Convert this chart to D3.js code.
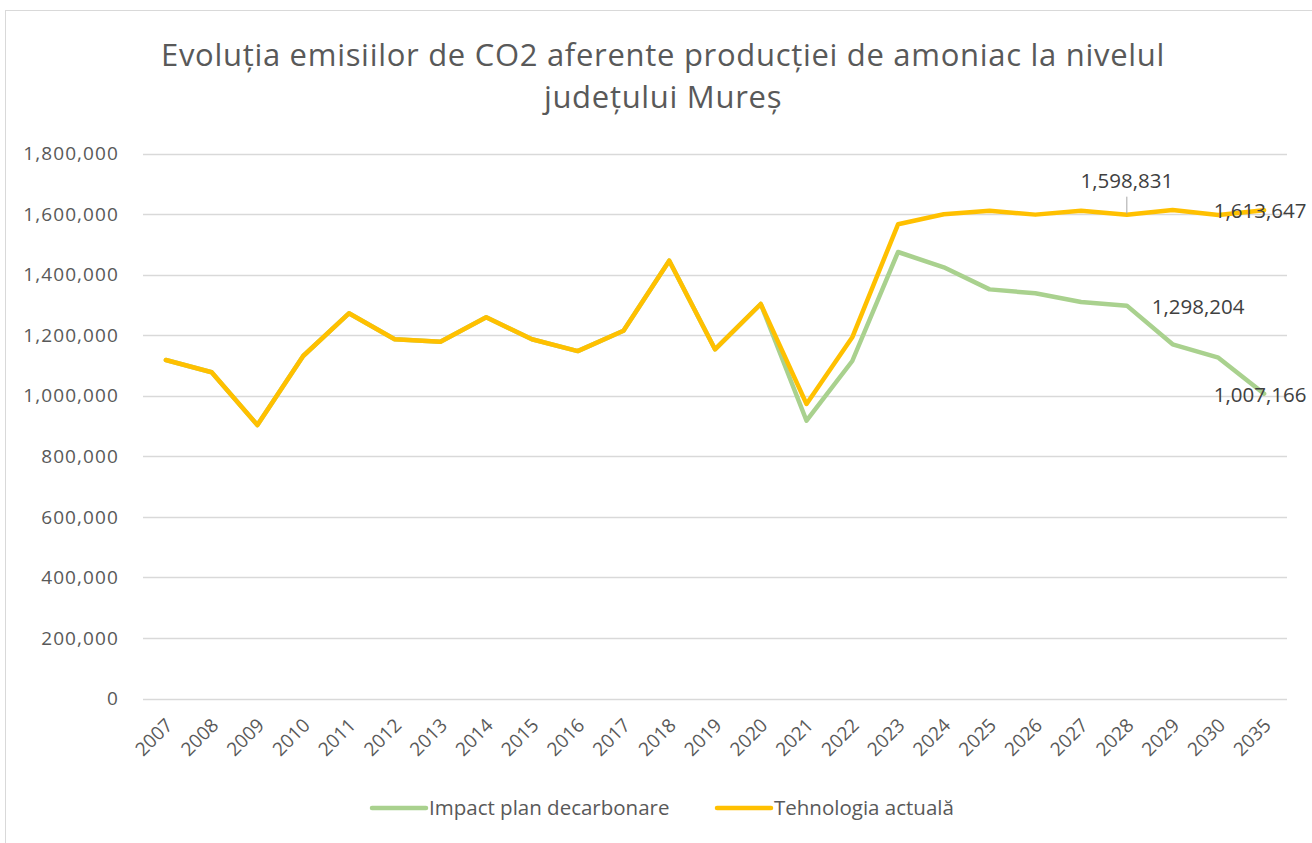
<!DOCTYPE html>
<html>
<head>
<meta charset="utf-8">
<script src="https://cdn.jsdelivr.net/npm/d3@7"></script>
<style>
  body { margin: 0; background: #fff; }
  svg { display: block; font-family: "Open Sans", sans-serif; }
</style>
</head>
<body>
<svg id="chart" width="1312" height="843"></svg>
<script>
// data
const years = ['2007','2008','2009','2010','2011','2012','2013','2014','2015','2016','2017','2018','2019',
  '2020','2021','2022','2023','2024','2025','2026','2027','2028','2029','2030','2035'];

const impactPlan = [1118600, 1078000, 903800, 1131800, 1272900, 1187000, 1179000, 1259700, 1187000, 1148000,
  1215400, 1446800, 1154000, 1303700, 918000, 1115300, 1475500, 1425000, 1352000, 1339000,
  1310000, 1298204, 1170500, 1126200, 1007166];

const tehnologia = [1118600, 1078000, 903800, 1131800, 1272900, 1187000, 1179000, 1259700, 1187000, 1148000,
  1215400, 1446800, 1154000, 1303700, 973200, 1193600, 1567000, 1600000, 1612000, 1599000,
  1612000, 1598831, 1614000, 1598000, 1613647];

const yTicks = [0, 200000, 400000, 600000, 800000, 1000000, 1200000, 1400000, 1600000, 1800000];

const titleLines = ['Evoluția emisiilor de CO2 aferente producției de amoniac la nivelul', 'județului Mureș'];
const seriesNames = ['Impact plan decarbonare', 'Tehnologia actuală'];
const seriesColors = ['#A9D18E', '#FFC000'];

document.addEventListener('DOMContentLoaded', function() {

    var svg = d3.select('#chart');
    var fmt = d3.format(',');

    // chart border
    svg.append('rect')
        .attr('x', 5.5).attr('y', 10.5)
        .attr('width', 1330).attr('height', 860)
        .attr('fill', '#fff')
        .attr('stroke', '#d9d9d9');

    // title
    svg.selectAll('.title')
        .data(titleLines)
      .enter().append('text')
        .attr('class', 'title')
        .attr('x', 663)
        .attr('y', function(d, i) { return 66 + i * 42; })
        .attr('text-anchor', 'middle')
        .attr('font-size', 31)
        .attr('letter-spacing', 0.7)
        .attr('fill', '#595959')
        .text(function(d) { return d; });

    var x = d3.scaleBand()
        .domain(years)
        .range([143, 1287]);

    var y = d3.scaleLinear()
        .domain([0, 1800000])
        .range([698.5, 153.8]);

    var cx = function(i) { return x(years[i]) + x.bandwidth() / 2; };

    // gridlines
    svg.append('g')
        .selectAll('line')
        .data(yTicks)
      .enter().append('line')
        .attr('x1', 143).attr('x2', 1287)
        .attr('y1', function(d) { return Math.round(y(d)) + 0.5; })
        .attr('y2', function(d) { return Math.round(y(d)) + 0.5; })
        .attr('stroke', '#d9d9d9')
        .attr('stroke-width', 1.3);

    // y axis labels
    var yAxis = svg.append('g')
        .attr('transform', 'translate(143,0)')
        .call(d3.axisLeft(y).tickValues(yTicks).tickFormat(fmt).tickSize(0).tickPadding(24));
    yAxis.select('.domain').remove();
    yAxis.selectAll('text')
        .attr('font-family', '"Open Sans", sans-serif')
        .attr('font-size', 19)
        .attr('letter-spacing', 1.1)
        .attr('fill', '#595959');

    // x axis labels
    var xAxis = svg.append('g')
        .attr('transform', 'translate(0,698.5)')
        .call(d3.axisBottom(x).tickSize(0).tickPadding(0));
    xAxis.select('.domain').remove();
    xAxis.selectAll('text')
        .attr('font-family', '"Open Sans", sans-serif')
        .attr('font-size', 19)
        .attr('fill', '#595959')
        .attr('text-anchor', 'end')
        .attr('dy', 0)
        .attr('y', 0)
        .attr('transform', 'translate(8,28) rotate(-45)');

    // lines
    var line = d3.line()
        .x(function(d, i) { return cx(i); })
        .y(function(d) { return y(d); });

    [impactPlan, tehnologia].forEach(function(series, k) {
        svg.append('path')
            .datum(series)
            .attr('fill', 'none')
            .attr('stroke', seriesColors[k])
            .attr('stroke-width', 4.5)
            .attr('stroke-linejoin', 'round')
            .attr('stroke-linecap', 'round')
            .attr('d', line);
    });

    // data labels
    var i28 = years.indexOf('2028'), i35 = years.indexOf('2035');

    svg.append('line')
        .attr('x1', cx(i28)).attr('x2', cx(i28))
        .attr('y1', y(tehnologia[i28]) - 18).attr('y2', y(tehnologia[i28]) - 1)
        .attr('stroke', '#a6a6a6');

    var labels = [
        {v: tehnologia[i28], x: cx(i28), y: y(tehnologia[i28]) - 27, anchor: 'middle'},
        {v: tehnologia[i35], x: cx(i35) - 4, y: y(tehnologia[i35]) + 8, anchor: 'middle'},
        {v: impactPlan[i28], x: cx(i28) + 25, y: y(impactPlan[i28]) + 8, anchor: 'start'},
        {v: impactPlan[i35], x: cx(i35) - 4, y: y(impactPlan[i35]) + 8, anchor: 'middle'}
    ];

    svg.selectAll('.dlabel')
        .data(labels)
      .enter().append('text')
        .attr('class', 'dlabel')
        .attr('x', function(d) { return d.x; })
        .attr('y', function(d) { return d.y; })
        .attr('text-anchor', function(d) { return d.anchor; })
        .attr('font-size', 20.5)
        .attr('fill', '#404040')
        .text(function(d) { return fmt(d.v); });

    // legend
    var legendX = [372, 717];
    var legend = svg.selectAll('.legend')
        .data(seriesNames)
      .enter().append('g')
        .attr('class', 'legend')
        .attr('transform', function(d, i) { return 'translate(' + legendX[i] + ',808)'; });

    legend.append('line')
        .attr('x1', 0).attr('x2', 54)
        .attr('stroke', function(d, i) { return seriesColors[i]; })
        .attr('stroke-width', 4.5)
        .attr('stroke-linecap', 'round');

    legend.append('text')
        .attr('x', 57)
        .attr('y', 7)
        .attr('font-size', 20.5)
        .attr('fill', '#595959')
        .text(function(d) { return d; });
});
</script>
</body>
</html>
